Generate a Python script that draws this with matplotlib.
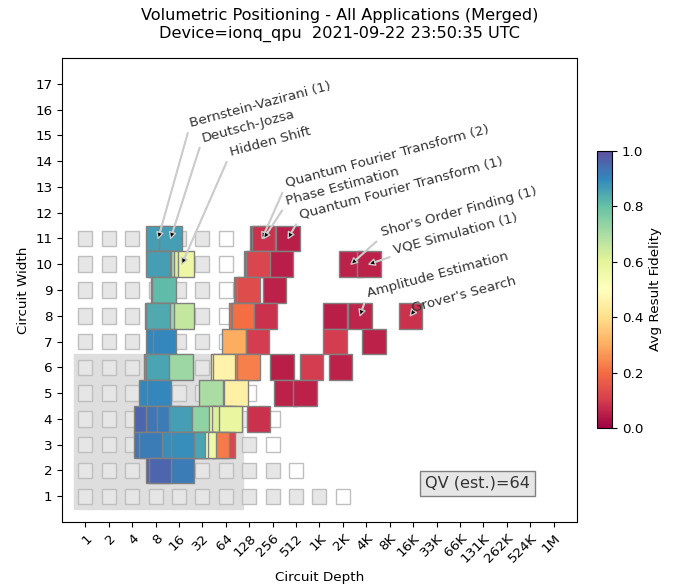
import matplotlib
matplotlib.use("Agg")
import matplotlib.pyplot as plt
from matplotlib.patches import Rectangle
from matplotlib import cm

plt.rcParams["font.size"] = 9.7

# x axis: circuit depth, one tick per power of two
depth_labels = ["1", "2", "4", "8", "16", "32", "64", "128", "256", "512", "1K", "2K",
                "4K", "8K", "16K", "33K", "66K", "131K", "262K", "524K", "1M"]

# background grid: last filled (gray) depth index for each width 1..11, an empty box follows
bkg_last_gray = [11, 9, 8, 8, 7, 7, 6, 6, 6, 6, 6]
qv_width = 6
qv_depth_log = 7.25
qv_label = "QV (est.)=64"

# merged result cells (drawn in this order): width, log2 depth index, avg fidelity
cell_width = [
    11, 11, 11, 11, 11,
    10, 10, 10, 10, 10, 10, 10, 10, 10, 10,
    9, 9, 9, 9, 9,
    8, 8, 8, 8, 8, 8, 8, 8, 8, 8, 8,
    7, 7, 7, 7, 7, 7,
    6, 6, 6, 6, 6, 6, 6, 6, 6, 6,
    5, 5, 5, 5, 5, 5,
    4, 4, 4, 4, 4, 4, 4, 4, 4,
    3, 3, 3, 3, 3, 3, 3, 3, 3,
    2, 2, 2,
]
cell_depth_log = [
    4.11, 4.64, 8.55, 8.62, 9.66,
    5.12, 4.47, 4.29, 4.16, 4.11, 8.28, 8.38, 9.37, 12.35, 13.11,
    4.32, 4.36, 7.85, 7.96, 9.08,
    5.12, 4.30, 4.05, 4.11, 7.63, 7.70, 7.77, 8.70, 11.66, 12.73, 14.88,
    4.08, 4.39, 7.34, 8.35, 11.66, 13.33,
    4.01, 4.11, 5.09, 6.85, 6.95, 7.91, 7.98, 9.40, 10.65, 11.89,
    3.80, 4.15, 6.37, 7.43, 9.54, 10.39,
    3.585, 4.08, 4.58, 5.07, 6.07, 6.78, 6.92, 7.20, 8.40,
    6.91, 6.63, 6.09, 5.75, 5.59, 3.585, 3.80, 4.79, 5.15,
    4.08, 4.20, 5.15,
]
cell_fidelity = [
    0.86, 0.86, 0.08, 0.08, 0.05,
    0.57, 0.62, 0.70, 0.86, 0.86, 0.12, 0.12, 0.05, 0.055, 0.055,
    0.81, 0.81, 0.14, 0.13, 0.055,
    0.66, 0.72, 0.84, 0.84, 0.20, 0.21, 0.20, 0.08, 0.05, 0.06, 0.08,
    0.90, 0.90, 0.30, 0.10, 0.10, 0.055,
    0.85, 0.85, 0.72, 0.45, 0.46, 0.22, 0.23, 0.05, 0.10, 0.055,
    0.90, 0.90, 0.70, 0.45, 0.055, 0.055,
    0.96, 0.93, 0.92, 0.86, 0.74, 0.55, 0.62, 0.58, 0.08,
    0.12, 0.22, 0.56, 0.50, 0.85, 0.93, 0.92, 0.89, 0.89,
    0.97, 0.96, 0.92,
]

# application labels and the cell each one points at
anno_labels = ["Bernstein-Vazirani (1)", "Deutsch-Jozsa", "Hidden Shift",
               "Quantum Fourier Transform (2)", "Phase Estimation",
               "Quantum Fourier Transform (1)", "Shor's Order Finding (1)",
               "VQE Simulation (1)", "Amplitude Estimation", "Grover's Search"]
anno_width = [11, 11, 10, 11, 11, 11, 10, 10, 8, 8]
anno_depth_log = [4.11, 4.64, 5.12, 8.55, 8.62, 9.66, 12.35, 13.11, 12.73, 14.88]
anno_text_pos = [(5.41, 15.32), (5.92, 14.75), (7.09, 14.2), (9.47, 13.0),
                 (9.49, 12.32), (10.07, 11.78), (13.56, 11.1), (14.12, 10.43),
                 (12.96, 8.72), (14.9, 8.14)]

cmap = plt.get_cmap("Spectral")

fig = plt.figure(figsize=(6.73, 5.87), dpi=100)
ax = fig.add_axes([0.0921, 0.1107, 0.7652, 0.7905])
fig.text(0.505, 0.957, "Volumetric Positioning - All Applications (Merged)\n"
         "Device=ionq_qpu  2021-09-22 23:50:35 UTC",
         ha="center", va="center", fontsize=11.6)

ax.set_xlim(0, 22)
ax.set_ylim(0, 18)
ax.set_xticks(range(1, 22))
ax.set_xticklabels(depth_labels, rotation=45, ha="right", va="top",
                   rotation_mode="anchor")
ax.set_yticks(range(1, 18))
ax.set_xlabel("Circuit Depth")
ax.set_ylabel("Circuit Width")

# quantum volume area
ax.add_patch(Rectangle((0.5, 0.5), qv_depth_log, qv_width,
                       facecolor=(0.87, 0.87, 0.87), edgecolor=(0.87, 0.87, 0.87),
                       lw=1, zorder=1))

# volumetric background boxes
for w, last in enumerate(bkg_last_gray, start=1):
    for d in range(1, last + 2):
        fc = (0.9, 0.9, 0.9) if d <= last else (1, 1, 1)
        ax.add_patch(Rectangle((d - 0.3, w - 0.3), 0.6, 0.6, facecolor=fc,
                               edgecolor=(0.75, 0.75, 0.75), lw=1.0, zorder=2))

# result cells
for w, d, f in zip(cell_width, cell_depth_log, cell_fidelity):
    ax.add_patch(Rectangle((d - 0.5, w - 0.5), 1.0, 1.0, facecolor=cmap(f),
                           edgecolor=(0.5, 0.5, 0.5), lw=1.0, zorder=3))

# labels
for lab, w, d, pos in zip(anno_labels, anno_width, anno_depth_log, anno_text_pos):
    ax.annotate(lab, xy=(d, w), xytext=pos, rotation=15,
                ha="left", va="baseline", color=(0.2, 0.2, 0.2), zorder=5,
                arrowprops=dict(facecolor="black", edgecolor=(0.8, 0.8, 0.8),
                                width=0.5, headwidth=4.5, headlength=4.5, shrink=0, lw=1.0))

ax.text(20, 1.5, qv_label, size=11.6, ha="right", va="center", color=(0.2, 0.2, 0.2),
        bbox=dict(boxstyle="square,pad=0.3", fc=(0.9, 0.9, 0.9), ec="grey", lw=1),
        zorder=6)

cax = fig.add_axes([0.887, 0.271, 0.0223, 0.472])
cb = fig.colorbar(cm.ScalarMappable(cmap=cmap), cax=cax)
cb.set_label("Avg Result Fidelity")

fig.savefig("out.png", dpi=100)
